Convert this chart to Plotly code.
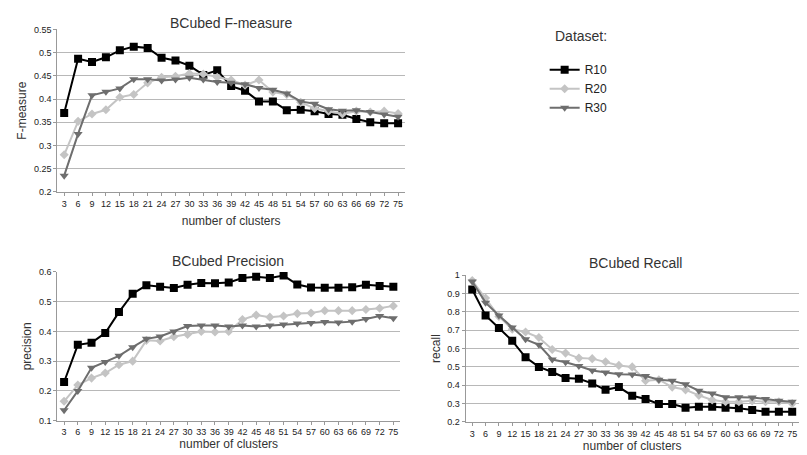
import plotly.graph_objects as go

clusters = [str(v) for v in range(3, 76, 3)]
f_r10 = [0.37,0.487,0.48,0.49,0.505,0.513,0.51,0.489,0.483,0.472,0.452,0.462,0.428,0.418,0.395,0.395,0.376,0.377,0.374,0.368,0.366,0.357,0.35,0.348,0.348]
f_r20 = [0.28,0.352,0.368,0.377,0.404,0.41,0.435,0.447,0.449,0.455,0.454,0.447,0.441,0.43,0.441,0.415,0.41,0.393,0.38,0.374,0.368,0.374,0.372,0.374,0.369]
f_r30 = [0.235,0.325,0.408,0.416,0.423,0.443,0.443,0.44,0.442,0.446,0.442,0.437,0.435,0.432,0.424,0.42,0.412,0.395,0.39,0.378,0.375,0.376,0.372,0.367,0.362]
p_r10 = [0.23,0.355,0.362,0.395,0.465,0.527,0.555,0.55,0.546,0.557,0.563,0.562,0.565,0.58,0.584,0.58,0.588,0.558,0.548,0.547,0.547,0.549,0.557,0.553,0.55]
p_r20 = [0.165,0.22,0.243,0.26,0.288,0.3,0.37,0.368,0.382,0.39,0.4,0.398,0.4,0.44,0.455,0.448,0.452,0.46,0.462,0.47,0.47,0.47,0.474,0.478,0.486]
p_r30 = [0.135,0.2,0.278,0.297,0.318,0.347,0.375,0.383,0.4,0.418,0.42,0.42,0.417,0.42,0.417,0.42,0.423,0.427,0.428,0.432,0.43,0.433,0.442,0.452,0.444]
r_r10 = [0.922,0.78,0.712,0.642,0.552,0.5,0.472,0.44,0.435,0.41,0.375,0.39,0.343,0.325,0.298,0.298,0.278,0.283,0.283,0.278,0.275,0.265,0.256,0.255,0.255]
r_r20 = [0.97,0.875,0.775,0.705,0.69,0.66,0.595,0.575,0.548,0.545,0.528,0.508,0.5,0.425,0.43,0.39,0.375,0.345,0.32,0.31,0.31,0.315,0.31,0.31,0.3]
r_r30 = [0.965,0.85,0.78,0.715,0.65,0.62,0.54,0.525,0.505,0.48,0.47,0.46,0.458,0.45,0.43,0.425,0.405,0.37,0.355,0.335,0.335,0.333,0.325,0.315,0.31]

series = ["R10", "R20", "R30"]
colors = {"R10": "#000000", "R20": "#c4c4c4", "R30": "#6e6e6e"}
symbols = {"R10": "square", "R20": "diamond", "R30": "triangle-down"}
msize = {"R10": 8, "R20": 7, "R30": 8}

fig = go.Figure()
panels = [("x", "y", [f_r10, f_r20, f_r30]), ("x2", "y2", [p_r10, p_r20, p_r30]), ("x3", "y3", [r_r10, r_r20, r_r30])]
for pi, (xa, ya, data) in enumerate(panels):
    for name, vals in zip(series, data):
        fig.add_trace(go.Scatter(x=clusters, y=vals, xaxis=xa, yaxis=ya, name=name,
                                 mode="lines+markers", showlegend=(pi == 0),
                                 line=dict(color=colors[name], width=2),
                                 marker=dict(symbol=symbols[name], size=msize[name], color=colors[name])))

font = dict(family="Liberation Sans, Arial", color="#333")
ax_common = dict(type="category", range=[-0.5, 24.5], showgrid=False, showline=True, linecolor="#999",
                 ticks="outside", ticklen=3, tickcolor="#999", tickfont=dict(size=9, color="#222"), tickangle=0)
ay_common = dict(showgrid=True, gridcolor="#b8b8b8", gridwidth=1, griddash="solid", showline=True, linecolor="#999", ticks="outside",
                 ticklen=3, tickcolor="#999", tickfont=dict(size=9, color="#222"), zeroline=False, layer="below traces")

fig.update_layout(
    width=807, height=455, margin=dict(l=0, r=0, t=0, b=0),
    paper_bgcolor="white", plot_bgcolor="white", font=font,
    xaxis=dict(domain=[0.061, 0.492], anchor="y", title=dict(text="number of clusters", font=dict(size=12), standoff=8), **ax_common),
    yaxis=dict(domain=[0.598, 0.963], anchor="x", range=[0.2, 0.55], dtick=0.05,
               title=dict(text="F-measure", font=dict(size=12), standoff=4), **ay_common),
    xaxis2=dict(domain=[0.061, 0.486], anchor="y2", title=dict(text="number of clusters", font=dict(size=12), standoff=2), **ax_common),
    yaxis2=dict(domain=[0.084, 0.418], anchor="x2", range=[0.1, 0.6], dtick=0.1,
                title=dict(text="precision", font=dict(size=12), standoff=4), **ay_common),
    xaxis3=dict(domain=[0.567, 0.98], anchor="y3", title=dict(text="number of clusters", font=dict(size=12), standoff=2), **ax_common),
    yaxis3=dict(domain=[0.081, 0.411], anchor="x3", range=[0.2, 1.0], dtick=0.1,
                title=dict(text="recall", font=dict(size=12), standoff=4), **ay_common),
    legend=dict(x=0.665, y=0.905, xanchor="left", yanchor="top", font=dict(size=12, color="#222"),
                bgcolor="rgba(0,0,0,0)", tracegroupgap=0, itemwidth=30),
    annotations=[
        dict(text="BCubed F-measure", x=0.276, y=1.0, xref="paper", yref="paper", xanchor="center", yanchor="top", showarrow=False, font=dict(size=14)),
        dict(text="BCubed Precision", x=0.273, y=0.466, xref="paper", yref="paper", xanchor="center", yanchor="top", showarrow=False, font=dict(size=14)),
        dict(text="BCubed Recall", x=0.778, y=0.46, xref="paper", yref="paper", xanchor="center", yanchor="top", showarrow=False, font=dict(size=14)),
        dict(text="Dataset:", x=0.71, y=0.97, xref="paper", yref="paper", xanchor="center", yanchor="top", showarrow=False, font=dict(size=14)),
    ],
)
fig.write_html("out.html")
